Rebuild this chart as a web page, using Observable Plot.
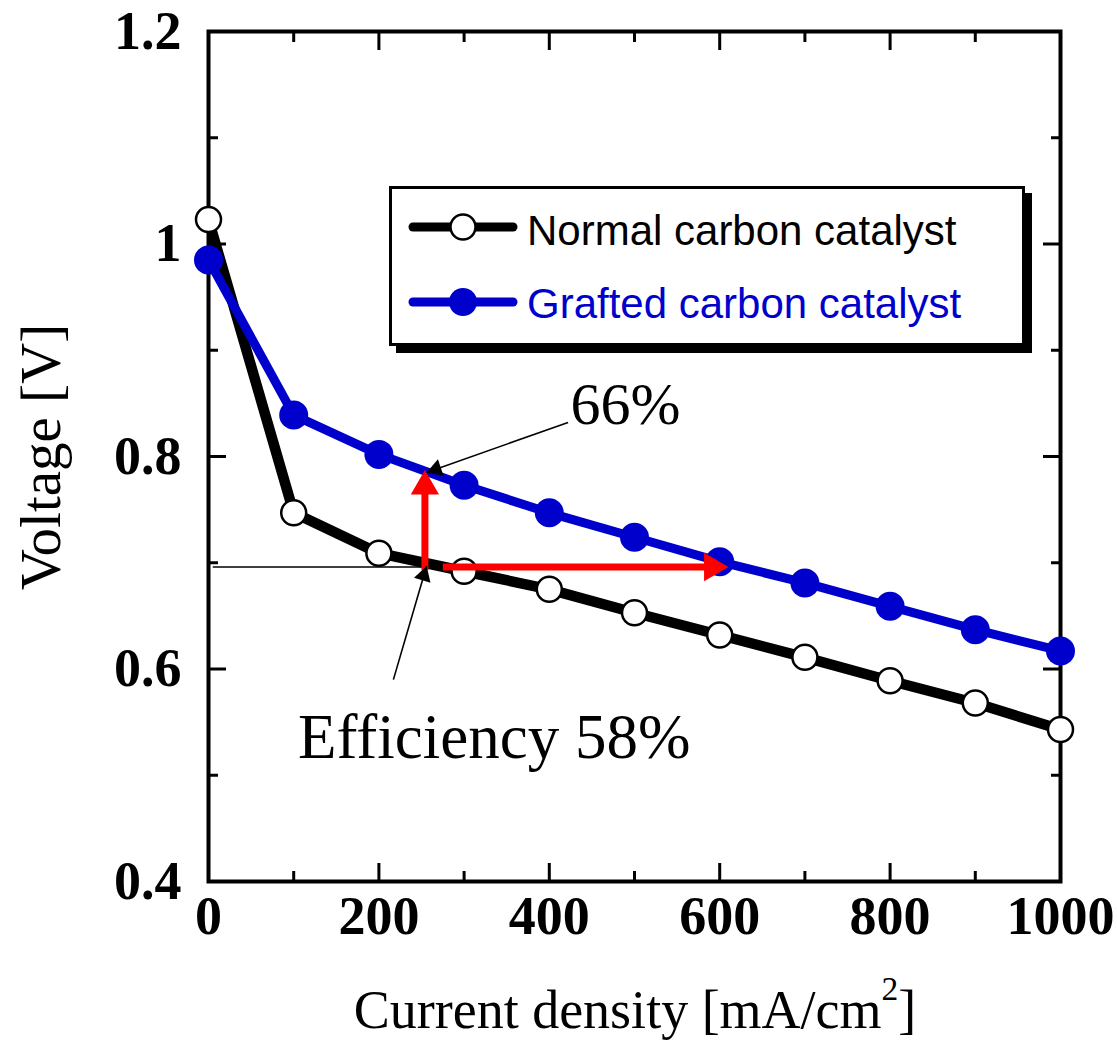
<!DOCTYPE html>
<html>
<head>
<meta charset="utf-8">
<script src="https://cdn.jsdelivr.net/npm/d3@7"></script>
<script src="https://cdn.jsdelivr.net/npm/@observablehq/plot@0.6"></script>
<style>
  html, body { margin: 0; padding: 0; background: #fff; }
  #wrap { position: relative; width: 1117px; height: 1045px; overflow: hidden; background: #fff; }
  .serif { font-family: "Liberation Serif", "Times New Roman", serif; color: #000; }
  #xtitle { position: absolute; left: 635px; top: 983px; transform: translateX(-50%); font-size: 54px; line-height: 1; white-space: nowrap; }
  #xtitle sup { font-size: 0.62em; position: relative; top: -0.32em; vertical-align: top; }
  #ytitle { position: absolute; left: 40px; top: 457px; transform: translate(-50%, -50%) rotate(-90deg); font-size: 57px; line-height: 1; white-space: nowrap; }
  #legend { position: absolute; left: 389px; top: 186px; width: 636px; height: 160px; box-sizing: border-box; border: 3px solid #000; box-shadow: 7px 7px 0 #000; background: #fff; font-family: "Liberation Sans", Arial, sans-serif; }
  #legend .lab { position: absolute; left: 135px; font-size: 42px; line-height: 1; white-space: nowrap; }
</style>
</head>
<body>
<div id="wrap"></div>
<script>
// ---- data ----
const currentDensity = [0, 100, 200, 300, 400, 500, 600, 700, 800, 900, 1000];
const normalVoltage  = [1.023, 0.747, 0.709, 0.692, 0.675, 0.653, 0.632, 0.611, 0.589, 0.568, 0.543];
const graftedVoltage = [0.985, 0.839, 0.802, 0.773, 0.747, 0.724, 0.701, 0.681, 0.659, 0.637, 0.617];
const seriesNames = ["Normal carbon catalyst", "Grafted carbon catalyst"];
const seriesColors = ["#000000", "#0000cc"];

const xMajorTicks = [0, 200, 400, 600, 800, 1000];
const xMinorTicks = [100, 300, 500, 700, 900];
const yMajorTicks = [0.4, 0.6, 0.8, 1.0, 1.2];
const yMinorTicks = [0.5, 0.7, 0.9, 1.1];
const yTickLabels = ["0.4", "0.6", "0.8", "1", "1.2"];

// annotation values (data units)
const refVoltage = 0.696;          // operating voltage of normal catalyst
const refCurrent = 255;            // current density at that voltage (normal)
const matchedCurrent = 610;        // grafted catalyst current at same voltage
const grafedAtRef = 0.787;         // grafted voltage at refCurrent
const annotationLabels = ["66%", "Efficiency 58%"];
const labelPositions = [{x: 425, y: 0.831}, {x: 105, y: 0.516}];
const pointerStarts = [{x: 422, y: 0.832}, {x: 217, y: 0.590}];
const pointerTips   = [{x: 256, y: 0.785}, {x: 256, y: 0.697}];

const normalData  = currentDensity.map((x, i) => ({x, y: normalVoltage[i]}));
const graftedData = currentDensity.map((x, i) => ({x, y: graftedVoltage[i]}));

const font = "Liberation Serif, Times New Roman, serif";

const plot = Plot.plot({
  width: 1117,
  height: 1045,
  marginLeft: 208,
  marginRight: 57,
  marginTop: 31,
  marginBottom: 164,
  style: {fontFamily: font, background: "transparent", overflow: "visible", color: "#000"},
  x: {domain: [0, 1000]},
  y: {domain: [0.4, 1.2]},
  marks: [
    // tick labels
    Plot.axisX({ticks: xMajorTicks, tickSize: 0, tickPadding: 14, fontSize: 54, fontWeight: "bold", label: null, tickFormat: d => String(d)}),
    Plot.axisY({ticks: yMajorTicks, tickSize: 0, tickPadding: 27, fontSize: 54, fontWeight: "bold", label: null,
      tickFormat: d => yTickLabels[yMajorTicks.findIndex(v => Math.abs(v - d) < 1e-9)]}),
    // inward ticks on all four sides
    Plot.axisX({anchor: "bottom", ticks: xMajorTicks, tickSize: -18, text: null, label: null, strokeWidth: 3}),
    Plot.axisX({anchor: "bottom", ticks: xMinorTicks, tickSize: -10, text: null, label: null, strokeWidth: 3}),
    Plot.axisX({anchor: "top", ticks: xMajorTicks, tickSize: -18, text: null, label: null, strokeWidth: 3}),
    Plot.axisX({anchor: "top", ticks: xMinorTicks, tickSize: -10, text: null, label: null, strokeWidth: 3}),
    Plot.axisY({anchor: "left", ticks: yMajorTicks, tickSize: -18, text: null, label: null, strokeWidth: 3}),
    Plot.axisY({anchor: "left", ticks: yMinorTicks, tickSize: -10, text: null, label: null, strokeWidth: 3}),
    Plot.axisY({anchor: "right", ticks: yMajorTicks, tickSize: -18, text: null, label: null, strokeWidth: 3}),
    Plot.axisY({anchor: "right", ticks: yMinorTicks, tickSize: -10, text: null, label: null, strokeWidth: 3}),
    Plot.frame({stroke: "#000", strokeWidth: 4}),

    // thin reference line
    Plot.link([{x1: 5, x2: refCurrent, y: refVoltage}], {x1: "x1", x2: "x2", y1: "y", y2: "y", stroke: "#000", strokeWidth: 1.5}),

    // series
    Plot.line(normalData, {x: "x", y: "y", stroke: seriesColors[0], strokeWidth: 10.5, strokeLinejoin: "round"}),
    Plot.dot(normalData, {x: "x", y: "y", r: 12.5, fill: "#fff", stroke: "#000", strokeWidth: 2.5}),
    Plot.line(graftedData, {x: "x", y: "y", stroke: seriesColors[1], strokeWidth: 9, strokeLinejoin: "round"}),
    Plot.dot(graftedData, {x: "x", y: "y", r: 14.5, fill: seriesColors[1], stroke: null}),

    // red arrows
    Plot.link([{x1: refCurrent - 1, y1: refVoltage - 0.003, x2: refCurrent - 1, y2: grafedAtRef - 0.012}], {x1: "x1", y1: "y1", x2: "x2", y2: "y2", stroke: "#ff0000", strokeWidth: 7}),
    Plot.dot([{x: refCurrent - 1, y: grafedAtRef}], {x: "x", y: "y", symbol: "triangle", r: 10.5, dy: 16, fill: "#ff0000", stroke: null}),
    Plot.link([{x1: 275, x2: matchedCurrent - 14, y: refVoltage}], {x1: "x1", x2: "x2", y1: "y", y2: "y", stroke: "#ff0000", strokeWidth: 7}),
    Plot.dot([{x: matchedCurrent, y: refVoltage}], {x: "x", y: "y", symbol: "triangle", r: 10.5, dx: -16, rotate: 90, fill: "#ff0000", stroke: null}),

    // thin pointer arrows
    Plot.link([0, 1], {x1: i => pointerStarts[i].x, y1: i => pointerStarts[i].y, x2: i => pointerTips[i].x, y2: i => pointerTips[i].y, stroke: "#000", strokeWidth: 1.6}),
    Plot.dot([pointerTips[0]], {x: "x", y: "y", symbol: "triangle", r: 6.4, rotate: -109, dx: 9.4, dy: -3.3, fill: "#000", stroke: null}),
    Plot.dot([pointerTips[1]], {x: "x", y: "y", symbol: "triangle", r: 6.4, rotate: 17, dx: -2.9, dy: 9.6, fill: "#000", stroke: null}),

    // annotation text
    Plot.text([0], {x: labelPositions[0].x, y: labelPositions[0].y, text: () => annotationLabels[0], textAnchor: "start", lineAnchor: "bottom", fontSize: 60, fill: "#000"}),
    Plot.text([0], {x: labelPositions[1].x, y: labelPositions[1].y, text: () => annotationLabels[1], textAnchor: "start", lineAnchor: "bottom", fontSize: 63, fill: "#000"})
  ]
});

const wrap = document.getElementById("wrap");
plot.style.position = "absolute";
plot.style.left = "0px";
plot.style.top = "0px";
wrap.appendChild(plot);

// axis titles
const xt = document.createElement("div");
xt.id = "xtitle"; xt.className = "serif";
xt.innerHTML = "Current density [mA/cm<sup>2</sup>]";
wrap.appendChild(xt);
const yt = document.createElement("div");
yt.id = "ytitle"; yt.className = "serif";
yt.textContent = "Voltage [V]";
wrap.appendChild(yt);

// legend
const lg = document.createElement("div");
lg.id = "legend";
const ns = "http://www.w3.org/2000/svg";
const sw = document.createElementNS(ns, "svg");
sw.setAttribute("width", "140"); sw.setAttribute("height", "154");
sw.style.position = "absolute"; sw.style.left = "0"; sw.style.top = "0";
const rowsY = [38, 113];
seriesNames.forEach((name, i) => {
  const ln = document.createElementNS(ns, "line");
  ln.setAttribute("x1", 21); ln.setAttribute("x2", 121);
  ln.setAttribute("y1", rowsY[i]); ln.setAttribute("y2", rowsY[i]);
  ln.setAttribute("stroke", seriesColors[i]); ln.setAttribute("stroke-width", 9);
  ln.setAttribute("stroke-linecap", "round");
  sw.appendChild(ln);
  const c = document.createElementNS(ns, "circle");
  c.setAttribute("cx", 71); c.setAttribute("cy", rowsY[i]);
  c.setAttribute("r", i === 0 ? 12.5 : 14);
  c.setAttribute("fill", i === 0 ? "#fff" : seriesColors[1]);
  if (i === 0) { c.setAttribute("stroke", "#000"); c.setAttribute("stroke-width", 2.5); }
  sw.appendChild(c);
  const t = document.createElement("div");
  t.className = "lab";
  t.style.top = (i === 0 ? 21 : 94) + "px";
  t.style.color = seriesColors[i];
  t.textContent = name;
  lg.appendChild(t);
});
lg.appendChild(sw);
wrap.appendChild(lg);
</script>
</body>
</html>
